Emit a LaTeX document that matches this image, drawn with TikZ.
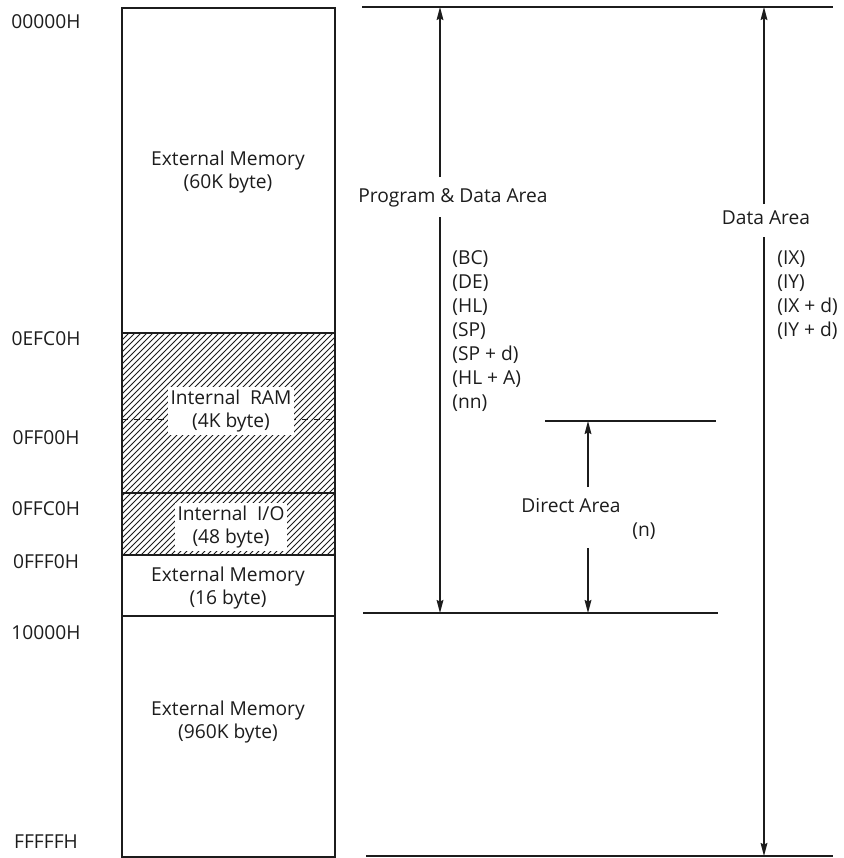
\documentclass[tikz,border=0pt]{standalone}
\usepackage{fontspec}
\setmainfont{Open Sans}
\usetikzlibrary{arrows.meta,patterns}
\definecolor{MapInk}{HTML}{1C1C1C}

\begin{document}
\begin{tikzpicture}[>={Stealth[length=6.5pt,width=3.4pt,inset=0.8pt]},x=0.5pt,y=-0.5pt,
  font=\fontsize{9.6}{11.5}\selectfont,
  blk/.style={align=center,text=MapInk,inner sep=1.5pt},
  addr/.style={text=MapInk,inner sep=0pt},
  reg/.style={anchor=west,text=MapInk,inner sep=0pt},
  rule/.style={MapInk,line width=0.8pt},
  span/.style={MapInk,line width=0.6pt}]
  \useasboundingbox (0,0) rectangle (843,858);
  % memory column
  \fill[pattern=north east lines,pattern color=MapInk] (122,333) rectangle (335,555);
  \draw[MapInk,dashed,line width=0.4pt] (122,419)--(335,419);
  \draw[MapInk,line width=0.9pt] (122,8) rectangle (335,857);
  \foreach \y in {333,493,555,616}
    \draw[MapInk,line width=0.9pt] (122,\y)--(335,\y);
  \node[blk] (ext60) at (228,172) {External Memory\\(60K byte)};
  \node[blk,fill=white] (iram) at (231,411) {Internal\hspace{0.25em} RAM\\(4K byte)};
  \node[blk,fill=white] (iio) at (231,527) {Internal\hspace{0.25em} I/O\\(48 byte)};
  \node[blk] (ext16) at (228,588) {External Memory\\(16 byte)};
  \node[blk] (ext960) at (228,722) {External Memory\\(960K byte)};
  % addresses
  \foreach \y/\a [count=\i] in {22/00000H,339/0EFC0H,438/0FF00H,509/0FFC0H,562/0FFF0H,633/10000H,842/FFFFFH}
    \node[addr] (addr\i) at (46,\y) {\a};
  % boundary lines
  \coordinate (topL) at (362,7);   \coordinate (topR) at (833,7);
  \coordinate (dirL) at (545,421); \coordinate (dirR) at (716,421);
  \coordinate (midL) at (363,613); \coordinate (midR) at (718,613);
  \coordinate (botL) at (366,856); \coordinate (botR) at (833,856);
  \draw[rule] (topL)--(topR);
  \draw[rule] (dirL)--(dirR);
  \draw[rule] (midL)--(midR);
  \draw[rule] (botL)--(botR);
  % program & data area
  \node[text=MapInk,inner sep=0pt] (pdlbl) at (453,198) {Program \& Data Area};
  \coordinate (pdtop) at (440,7);   \coordinate (pdgapa) at (440,177);
  \coordinate (pdgapb) at (440,217); \coordinate (pdbot) at (440,613);
  \draw[span,->] (pdgapa)--(pdtop);
  \draw[span,->] (pdgapb)--(pdbot);
  \foreach \r [count=\i] in {{(BC)},{(DE)},{(HL)},{(SP)},{(SP + d)},{(HL + A)},{(nn)}}
    \node[reg] (pdreg\i) at (452,235+24*\i) {\r};
  % data area
  \node[text=MapInk,inner sep=0pt] (dalbl) at (766,218) {Data Area};
  \coordinate (datop) at (764,7);   \coordinate (dagapa) at (764,204);
  \coordinate (dagapb) at (764,237); \coordinate (dabot) at (764,856);
  \draw[span,->] (dagapa)--(datop);
  \draw[span,->] (dagapb)--(dabot);
  \foreach \r [count=\i] in {{(IX)},{(IY)},{(IX + d)},{(IY + d)}}
    \node[reg] (dareg\i) at (777,235+24*\i) {\r};
  % direct area
  \node[text=MapInk,inner sep=0pt] (drlbl) at (571,506) {Direct Area};
  \node[text=MapInk,inner sep=0pt] (drreg) at (644,531) {(n)};
  \coordinate (drtop) at (588,421);  \coordinate (drgapa) at (588,487);
  \coordinate (drgapb) at (588,548); \coordinate (drbot) at (588,613);
  \draw[span,->] (drgapa)--(drtop);
  \draw[span,->] (drgapb)--(drbot);
\end{tikzpicture}
\end{document}
